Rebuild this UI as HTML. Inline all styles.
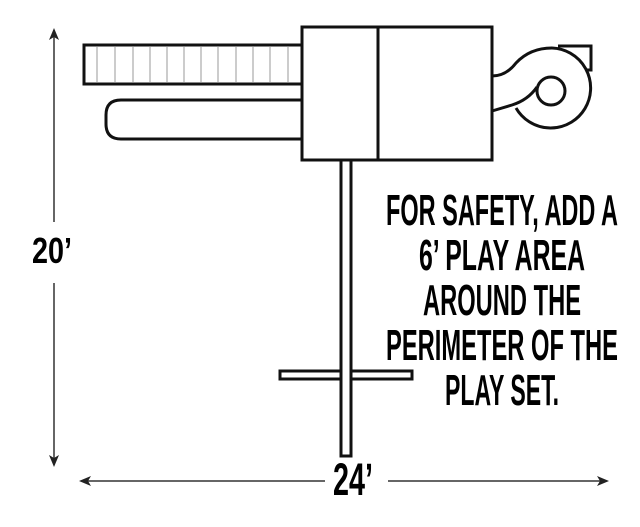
<!DOCTYPE html>
<html><head><style>
html,body{margin:0;padding:0;background:#fff;width:640px;height:527px;overflow:hidden}
svg{display:block}
text{font-family:"Liberation Sans",sans-serif;font-weight:bold;fill:#000}
</style></head><body>
<svg width="640" height="527" viewBox="0 0 640 527" xmlns="http://www.w3.org/2000/svg">
<g fill="none" stroke="#111" stroke-width="3">
<!-- ladder -->
<rect x="84" y="45" width="218" height="39" fill="#fff"/>
<g stroke="#bbb" stroke-width="1.5">
<line x1="97" y1="47" x2="97" y2="82"/><line x1="115" y1="47" x2="115" y2="82"/><line x1="133" y1="47" x2="133" y2="82"/><line x1="150" y1="47" x2="150" y2="82"/><line x1="167" y1="47" x2="167" y2="82"/><line x1="184" y1="47" x2="184" y2="82"/><line x1="201" y1="47" x2="201" y2="82"/><line x1="218" y1="47" x2="218" y2="82"/><line x1="236" y1="47" x2="236" y2="82"/><line x1="253" y1="47" x2="253" y2="82"/><line x1="270" y1="47" x2="270" y2="82"/><line x1="288" y1="47" x2="288" y2="82"/>
</g>
<!-- slide -->
<path d="M302 100 H121 Q106 100 106 115 V124 Q106 139 121 139 H302" fill="#fff"/>
<!-- box -->
<rect x="302" y="27" width="190" height="133" fill="#fff"/>
<line x1="378" y1="27" x2="378" y2="160"/>
<!-- spiral -->
<path d="M492 76 Q506 76 516 63 Q530 48 552 48"/>
<path d="M558 46 H591 V70 H586"/>
<path d="M492 111 L512 105 Q528 100 537 87"/>
<path d="M516 108 A40 40 0 1 0 552 48"/>
<circle cx="551" cy="91" r="14"/>
<!-- post -->
<rect x="341" y="160" width="10" height="296" fill="#fff"/>
<rect x="280" y="371" width="132" height="8" fill="none"/>
</g>
<rect x="342.5" y="369" width="7" height="12" fill="#fff"/>
<line x1="341" y1="370" x2="341" y2="380" stroke="#111" stroke-width="3"/>
<line x1="351" y1="370" x2="351" y2="380" stroke="#111" stroke-width="3"/>
<!-- dimensions -->
<g stroke="#333" stroke-width="1.5">
<line x1="54" y1="33" x2="54" y2="222"/><line x1="54" y1="283" x2="54" y2="462"/>
<line x1="83" y1="481" x2="325" y2="481"/><line x1="388" y1="481" x2="605" y2="481"/>
</g>
<g fill="#222">
<path d="M54 28 L49 40 L54 37 L59 40Z"/>
<path d="M54 467 L49 455 L54 458 L59 455Z"/>
<path d="M79 481 L91 476 L88 481 L91 486Z"/>
<path d="M609 481 L597 476 L600 481 L597 486Z"/>
</g>
<text x="32" y="263" font-size="36" textLength="40" lengthAdjust="spacingAndGlyphs">20’</text>
<text x="333" y="495" font-size="45" textLength="40" lengthAdjust="spacingAndGlyphs">24’</text>
<g font-size="44" text-anchor="middle">
<text x="502" y="225" textLength="232" lengthAdjust="spacingAndGlyphs">FOR SAFETY, ADD A</text>
<text x="502" y="270" textLength="166" lengthAdjust="spacingAndGlyphs">6’ PLAY AREA</text>
<text x="502" y="315" textLength="158" lengthAdjust="spacingAndGlyphs">AROUND THE</text>
<text x="502" y="360" textLength="232" lengthAdjust="spacingAndGlyphs">PERIMETER OF THE</text>
<text x="502" y="405" textLength="114" lengthAdjust="spacingAndGlyphs">PLAY SET.</text>
</g>
</svg>
</body></html>
